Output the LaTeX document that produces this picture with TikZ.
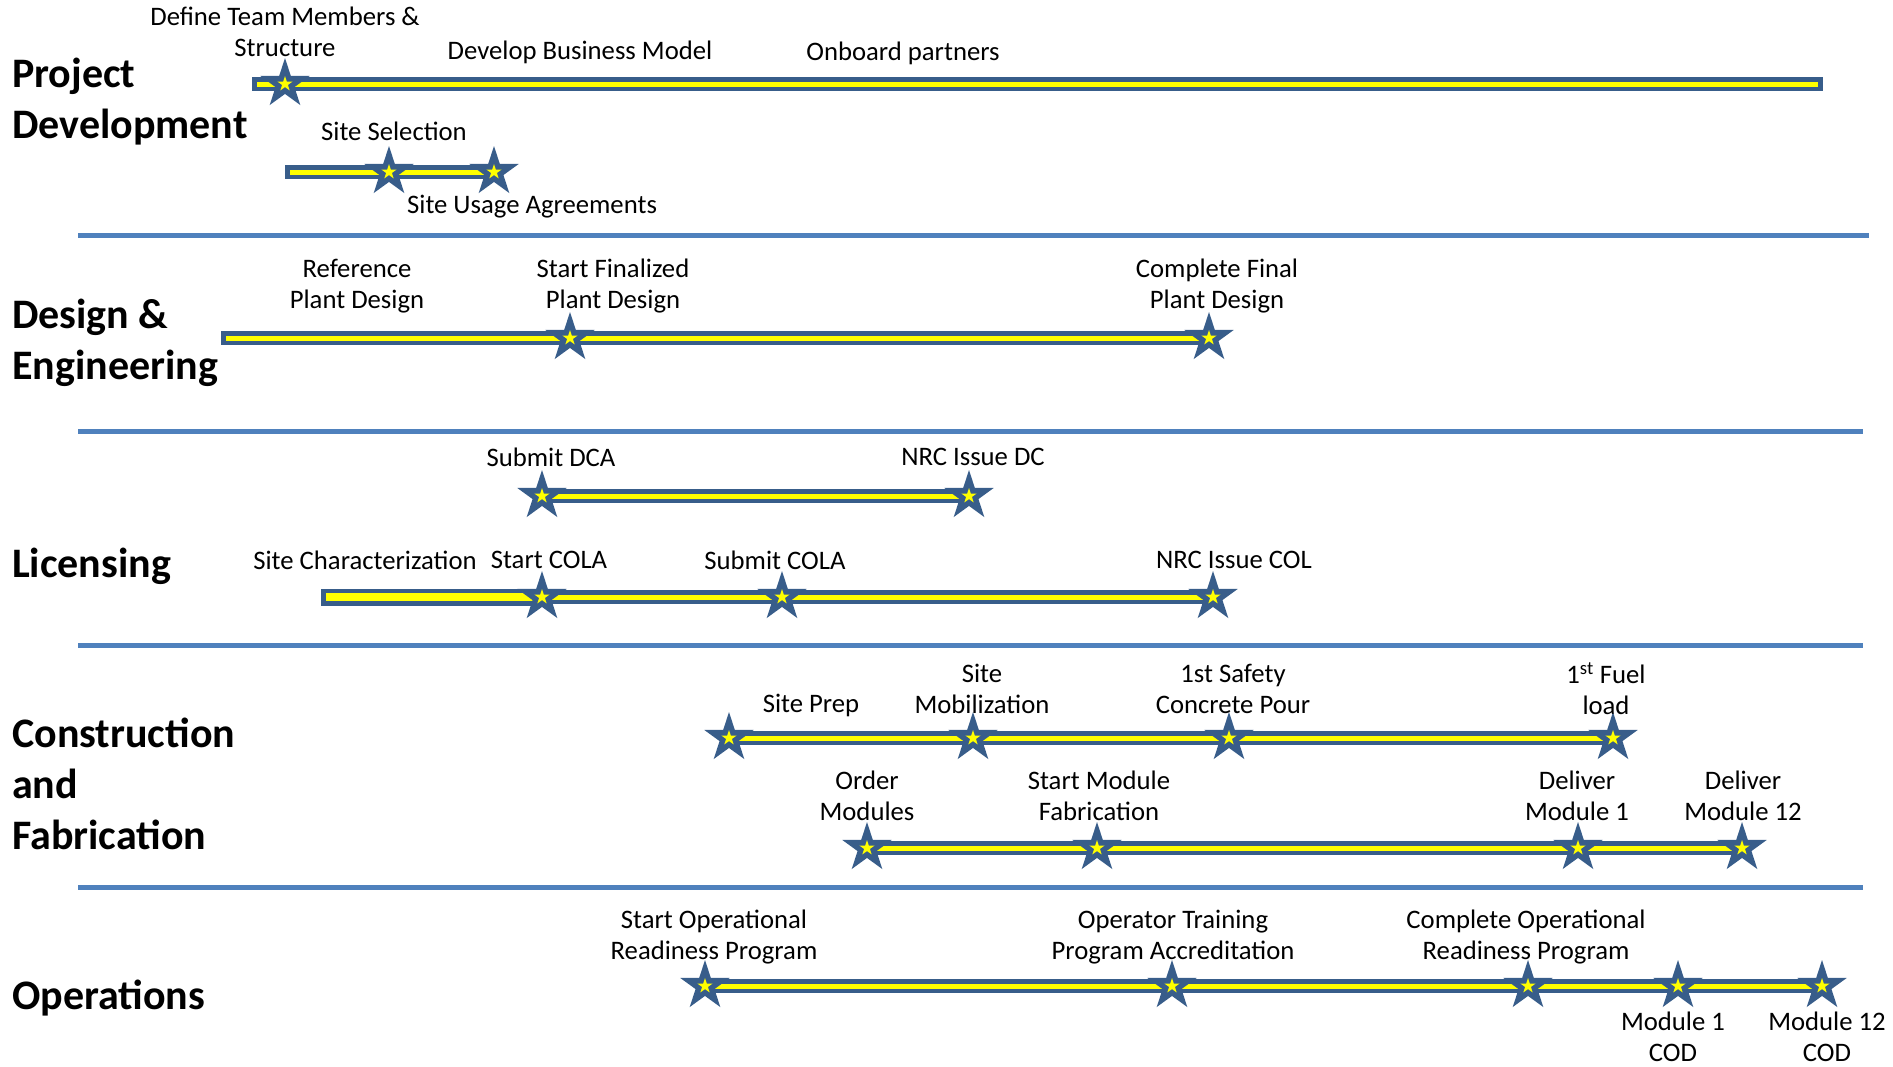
\documentclass[tikz,border=0pt]{standalone}
\usepackage{fontspec}
\setmainfont{Carlito}
\usetikzlibrary{shapes.geometric}
\definecolor{barblue}{RGB}{56,93,138}
\definecolor{sepblue}{RGB}{79,129,189}
\definecolor{baryellow}{RGB}{255,255,0}
\newcommand\mkstar[1]{\node[bigstar] (#1) at (#1c) {}; \node[smallstar] (#1y) at (#1.center) {};}
\begin{document}
\begin{tikzpicture}[x=1pt,y=-1pt,
 barout/.style={draw=barblue, line width=14pt},
 barin/.style={draw=baryellow, line width=5pt, shorten <=5pt, shorten >=5pt},
 thickout/.style={draw=barblue, line width=17pt},
 thickin/.style={draw=baryellow, line width=8pt, shorten <=5pt},
 bigstar/.style={star, star points=5, star point ratio=2.618, minimum size=52pt, inner sep=0pt, fill=barblue, draw=none},
 smallstar/.style={star, star points=5, star point ratio=2.618, minimum size=16pt, inner sep=0pt, fill=baryellow, draw=none},
 lbl/.style={font=\fontsize{26.7}{31.3}\selectfont, align=center, inner sep=0pt, yshift=-1pt},
 cat/.style={font=\fontsize{42}{51}\selectfont\bfseries, align=left, anchor=west, inner sep=0pt, yshift=-3pt},
 sepline/.style={draw=sepblue, line width=5pt}]
\useasboundingbox (0,0) rectangle (1893,1066);
\fill[white] (0,0) rectangle (1893,1066);

% ---------- separators
\coordinate (sepAa) at (78,235);  \coordinate (sepAb) at (1869,235);
\coordinate (sepBa) at (78,431);  \coordinate (sepBb) at (1863,431);
\coordinate (sepCa) at (78,645);  \coordinate (sepCb) at (1863,645);
\coordinate (sepDa) at (78,887);  \coordinate (sepDb) at (1863,887);
\draw[sepline] (sepAa) -- (sepAb);
\draw[sepline] (sepBa) -- (sepBb);
\draw[sepline] (sepCa) -- (sepCb);
\draw[sepline] (sepDa) -- (sepDb);

% ---------- category labels
\node[cat] (catPD) at (12,99) {Project\\Development};
\node[cat] (catDE) at (12,340) {Design \&\\Engineering};
\node[cat] (catLI) at (12,563) {Licensing};
\node[cat] (catCF) at (12,781) {Construction\\and\\Fabrication};
\node[cat] (catOP) at (12,995) {Operations};

% ---------- star coordinates
\coordinate (pdAc) at (285,84);
\coordinate (pdBc) at (389,172);
\coordinate (pdCc) at (494,172);
\coordinate (deAc) at (570,338);
\coordinate (deBc) at (1209,338);
\coordinate (liAc) at (542,496);
\coordinate (liBc) at (969,496);
\coordinate (liCc) at (542,597);
\coordinate (liDc) at (782,597);
\coordinate (liEc) at (1213,597);
\coordinate (cfAc) at (729,738);
\coordinate (cfBc) at (973,738);
\coordinate (cfCc) at (1229,738);
\coordinate (cfDc) at (1613,738);
\coordinate (cfEc) at (867,848);
\coordinate (cfFc) at (1097,848);
\coordinate (cfGc) at (1578,848);
\coordinate (cfHc) at (1742,848);
\coordinate (opAc) at (705,986);
\coordinate (opBc) at (1172,986);
\coordinate (opCc) at (1528,986);
\coordinate (opDc) at (1678,986);
\coordinate (opEc) at (1822,986);

% free bar ends
\coordinate (pdBar1a) at (252,84);
\coordinate (pdBar1b) at (1823,84);
\coordinate (pdBar2a) at (285,172);
\coordinate (deBara) at (221,338);
\coordinate (liBara) at (321,597);

% ---------- bars
\draw[barout] (pdBar1a) -- (pdBar1b);
\draw[barin]  (pdBar1a) -- (pdBar1b);
\draw[barout] (pdBar2a) -- (pdCc);
\draw[barin]  (pdBar2a) -- (pdCc);
\draw[barout] (deBara) -- (deBc);
\draw[barin]  (deBara) -- (deBc);
\draw[barout] (liAc) -- (liBc);
\draw[barin]  (liAc) -- (liBc);
\draw[barout] (liCc) -- (liEc);
\draw[barin]  (liCc) -- (liEc);
\draw[thickout] (liBara) -- (liCc);
\draw[thickin]  (liBara) -- (liCc);
\draw[barout] (cfAc) -- (cfDc);
\draw[barin]  (cfAc) -- (cfDc);
\draw[barout] (cfEc) -- (cfHc);
\draw[barin]  (cfEc) -- (cfHc);
\draw[barout] (opAc) -- (opEc);
\draw[barin]  (opAc) -- (opEc);

% ---------- stars
\mkstar{pdA}\mkstar{pdB}\mkstar{pdC}
\mkstar{deA}\mkstar{deB}
\mkstar{liA}\mkstar{liB}\mkstar{liC}\mkstar{liD}\mkstar{liE}
\mkstar{cfA}\mkstar{cfB}\mkstar{cfC}\mkstar{cfD}
\mkstar{cfE}\mkstar{cfF}\mkstar{cfG}\mkstar{cfH}
\mkstar{opA}\mkstar{opB}\mkstar{opC}\mkstar{opD}\mkstar{opE}

% ---------- labels: project development
\node[lbl] (tPD1) at (285,31) {Define Team Members \&\\Structure};
\node[lbl] (tPD2) at (580,51) {Develop Business Model};
\node[lbl] (tPD3) at (903,52) {Onboard partners};
\node[lbl] (tPD4) at (394,130) {Site Selection};
\node[lbl] (tPD5) at (532,206) {Site Usage Agreements};

% design
\node[lbl] (tDE1) at (357,285) {Reference\\Plant Design};
\node[lbl] (tDE2) at (613,285) {Start Finalized\\Plant Design};
\node[lbl] (tDE3) at (1217,285) {Complete Final\\Plant Design};

% licensing
\node[lbl] (tLI1) at (551,456) {Submit DCA};
\node[lbl] (tLI2) at (973,456) {NRC Issue DC};
\node[lbl] (tLI3) at (365,559) {Site Characterization};
\node[lbl] (tLI4) at (549,559) {Start COLA};
\node[lbl] (tLI5) at (775,559) {Submit COLA};
\node[lbl] (tLI6) at (1234,559) {NRC Issue COL};

% construction
\node[lbl] (tCF1) at (811,704) {Site Prep};
\node[lbl] (tCF2) at (982,688) {Site\\Mobilization};
\node[lbl] (tCF3) at (1233,688) {1st Safety\\Concrete Pour};
\node[lbl] (tCF4) at (1606,688) {1\textsuperscript{st} Fuel\\load};
\node[lbl] (tCF5) at (867,795) {Order\\Modules};
\node[lbl] (tCF6) at (1099,795) {Start Module\\Fabrication};
\node[lbl] (tCF7) at (1577,795) {Deliver\\Module 1};
\node[lbl] (tCF8) at (1743,795) {Deliver\\Module 12};

% operations
\node[lbl] (tOP1) at (714,936) {Start Operational\\Readiness Program};
\node[lbl] (tOP2) at (1173,936) {Operator Training\\Program Accreditation};
\node[lbl] (tOP3) at (1526,936) {Complete Operational\\Readiness Program};
\node[lbl] (tOP4) at (1673,1036) {Module 1\\COD};
\node[lbl] (tOP5) at (1827,1036) {Module 12\\COD};
\end{tikzpicture}
\end{document}
